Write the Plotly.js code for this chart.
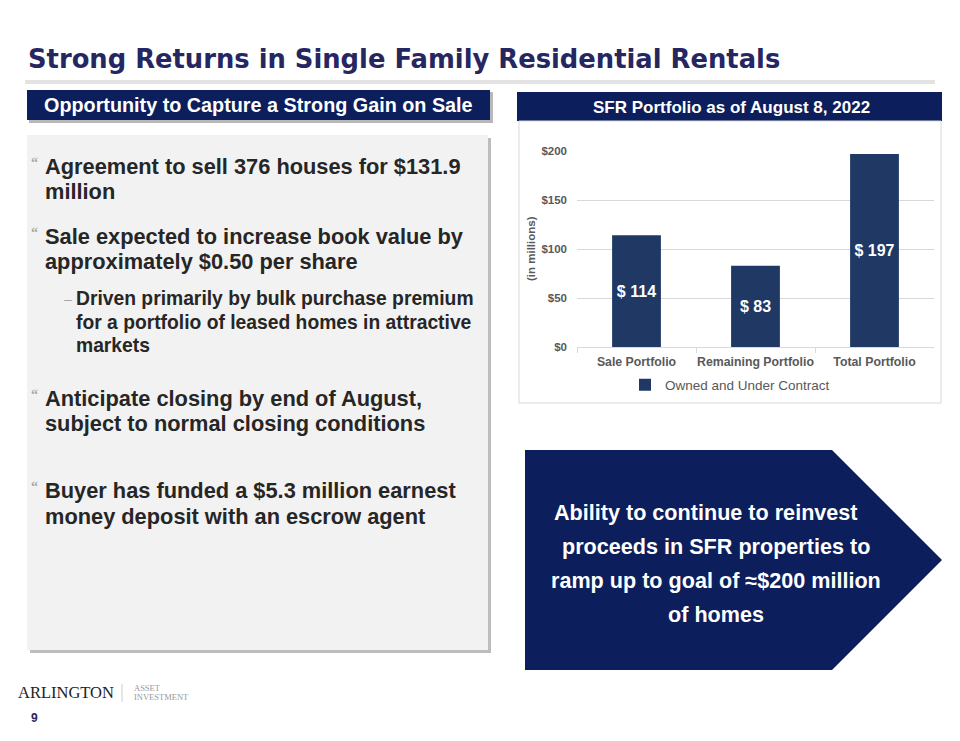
<!DOCTYPE html>
<html><head><meta charset="utf-8">
<script src="https://cdn.plot.ly/plotly-3.0.1.min.js"></script>
<style>html,body{margin:0;padding:0;background:#fff;overflow:hidden}#chart{width:960px;height:741px}</style>
</head><body><div id="chart"></div>
<script>
// ---- data ----
const categories = ["Sale Portfolio", "Remaining Portfolio", "Total Portfolio"];
const ownedValues = [114, 83, 197];
const seriesName = "Owned and Under Contract";
const yTickValues = [0, 50, 100, 150, 200];
const yTickLabels = ["$0", "$50", "$100", "$150", "$200"];
const barLabels = ["$ 114", "$ 83", "$ 197"];
const yAxisLabel = "(in millions)";

// ---- slide text ----
const slideTitle = "Strong Returns in Single Family Residential Rentals";
const leftHeader = "Opportunity to Capture a Strong Gain on Sale";
const rightHeader = "SFR Portfolio as of August 8, 2022";
const bullets = [
  ["Agreement to sell 376 houses for $131.9", "million"],
  ["Sale expected to increase book value by", "approximately $0.50 per share"],
  ["Anticipate closing by end of August,", "subject to normal closing conditions"],
  ["Buyer has funded a $5.3 million earnest", "money deposit with an escrow agent"]
];
const subBullet = ["Driven primarily by bulk purchase premium", "for a portfolio of leased homes in attractive", "markets"];
const arrowText = ["Ability to continue to reinvest", "proceeds in SFR properties to", "ramp up to goal of \u2248$200 million", "of homes"];

// ---- helpers (pixel -> paper) ----
const W = 960, H = 741;
const px = x => x / W;
const py = y => 1 - y / H;
const FONT = "Liberation Sans, Arial, Helvetica, sans-serif";
const HEAVY = "DejaVu Sans, Liberation Sans, sans-serif";
const SERIF = "Liberation Serif, Times New Roman, serif";
const NAVY = "#0c1e5b";

function rect(x0, y0, x1, y1, fill, line) {
  return {type: "rect", xref: "paper", yref: "paper", x0: px(x0), x1: px(x1), y0: py(y1), y1: py(y0),
          fillcolor: fill, line: line || {width: 0}, layer: "below"};
}
function pathShape(pts, fill) {
  const d = pts.map((p, i) => (i ? "L" : "M") + px(p[0]) + "," + py(p[1])).join(" ") + " Z";
  return {type: "path", xref: "paper", yref: "paper", path: d, fillcolor: fill, line: {width: 0}, layer: "below"};
}
function txt(x, y, text, opts) {
  return Object.assign({xref: "paper", yref: "paper", x: px(x), y: py(y), text: text, showarrow: false,
    xanchor: "left", yanchor: "middle", font: {family: FONT, size: 12, color: "#262626"}}, opts || {});
}

const shapes = [
  rect(25, 80, 935, 84, "#e3e3e3"),
  rect(29, 92, 493, 123, "#b8b8b8"),
  rect(27, 90, 490, 120, NAVY),
  rect(517, 92, 942, 121, NAVY),
  rect(30, 138, 491, 653, "#bdbdbd"),
  rect(27, 135, 488, 650, "#f2f2f2"),
  rect(519, 121, 941, 403, "#ffffff", {color: "#d9d9d9", width: 1}),
  pathShape([[525, 450], [832, 450], [942, 560], [832, 670], [525, 670]], NAVY),
  {type: "line", xref: "paper", yref: "paper", x0: px(122), x1: px(122), y0: py(684), y1: py(702),
   line: {color: "#cccccc", width: 1}, layer: "below"}
];

const ann = [];
ann.push(txt(26, 59, slideTitle, {font: {family: HEAVY, size: 25.8, color: "#262660", weight: "bold"}}));
ann.push(txt(258, 105, leftHeader, {xanchor: "center", font: {family: FONT, size: 19.8, color: "#ffffff", weight: "bold"}}));
ann.push(txt(731, 107, rightHeader, {xanchor: "center", font: {family: FONT, size: 17, color: "#ffffff", weight: "bold"}}));

const bulletY = [[166, 191], [236, 261], [398, 424], [490, 516]];
const bFont = {family: FONT, size: 21.8, color: "#262626", weight: "bold"};
bullets.forEach((lines, i) => {
  ann.push(txt(29, bulletY[i][0] - 4, "\u201C", {font: {family: SERIF, size: 14, color: "#a6a6a6", weight: "bold"}}));
  lines.forEach((l, j) => ann.push(txt(43, bulletY[i][j], l, {font: bFont})));
});
const subY = [299, 322, 345];
ann.push(txt(62, 299, "\u2013", {font: {family: FONT, size: 14, color: "#a6a6a6"}}));
subBullet.forEach((l, j) => ann.push(txt(74, subY[j], l, {font: {family: FONT, size: 19.3, color: "#262626", weight: "bold"}})));

const arrowY = [512, 546, 580, 614];
const arrowX = [706, 716, 716, 716];
arrowText.forEach((l, j) => ann.push(txt(arrowX[j], arrowY[j], l, {xanchor: "center",
  font: {family: FONT, size: 21.6, color: "#ffffff", weight: "bold"}})));

ann.push(txt(531, 249, yAxisLabel, {xanchor: "center", textangle: -90,
  font: {family: FONT, size: 11.5, color: "#595959", weight: "bold"}}));

ann.push(txt(16, 692, "ARLINGTON", {font: {family: SERIF, size: 16.5, color: "#222222"}}));
ann.push(txt(132, 688, "ASSET", {font: {family: SERIF, size: 8.5, color: "#9a9a9a"}}));
ann.push(txt(132, 697, "INVESTMENT", {font: {family: SERIF, size: 8.5, color: "#9a9a9a"}}));
ann.push(txt(29, 718, "9", {font: {family: FONT, size: 12, color: "#262660", weight: "bold"}}));

const trace = {
  type: "bar", x: categories, y: ownedValues, name: seriesName,
  marker: {color: "#1f3864"},
  text: barLabels, texttemplate: "%{text}", textposition: "inside", insidetextanchor: "middle", textangle: 0,
  textfont: {family: FONT, size: 16, color: "#ffffff", weight: "bold"},
  hoverinfo: "x+y", showlegend: true
};

const layout = {
  width: W, height: H, margin: {l: 0, r: 0, t: 0, b: 0},
  paper_bgcolor: "#ffffff", plot_bgcolor: "rgba(0,0,0,0)",
  font: {family: FONT},
  bargap: 0.59,
  xaxis: {domain: [px(577), px(934)], showline: true, linecolor: "#d9d9d9", linewidth: 1,
          ticks: "outside", tickson: "boundaries", tickcolor: "#d9d9d9", ticklen: 5, tickangle: 0,
          automargin: false, ticklabelstandoff: 3,
          tickfont: {family: FONT, size: 12.3, color: "#595959", weight: "bold"}, fixedrange: true},
  yaxis: {domain: [py(347), py(151)], range: [0, 200], tickmode: "array", tickvals: yTickValues, ticktext: yTickLabels,
          showgrid: true, gridcolor: "#d9d9d9", gridwidth: 1, zeroline: false, ticks: "",
          ticklabelstandoff: 9, automargin: false,
          tickfont: {family: FONT, size: 11.5, color: "#595959", weight: "bold"}, fixedrange: true},
  showlegend: true,
  legend: {orientation: "h", x: px(730), xanchor: "center", y: py(385), yanchor: "middle",
           bgcolor: "rgba(0,0,0,0)", font: {family: FONT, size: 13.5, color: "#595959"}},
  shapes: shapes, annotations: ann
};

Plotly.newPlot("chart", [trace], layout, {displayModeBar: false, staticPlot: true});
</script></body></html>
